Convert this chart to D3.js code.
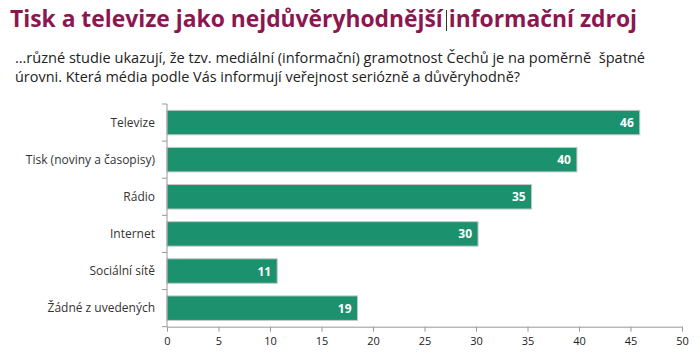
<!DOCTYPE html>
<html><head><meta charset="utf-8">
<script src="https://cdn.jsdelivr.net/npm/d3@7"></script>
<style>body{margin:0;background:#fff;} svg{display:block;}</style>
</head><body>
<svg id="c" width="700" height="360"></svg>
<script>
const categories = ["Televize","Tisk (noviny a časopisy)","Rádio","Internet","Sociální sítě","Žádné z uvedených"];
const values = [45.9, 39.8, 35.4, 30.2, 10.7, 18.5];
const ticks = [0,5,10,15,20,25,30,35,40,45,50];
const title = "Tisk a televize jako nejdůvěryhodnější informační zdroj";
const subtitle = ["…různé studie ukazují, že tzv. mediální (informační) gramotnost Čechů je na poměrně  špatné",
                  "úrovni. Která média podle Vás informují veřejnost seriózně a důvěryhodně?"];

const svg = d3.select("#c");
const font = "'Open Sans', 'Noto Sans', sans-serif";

svg.append("text").attr("x",10).attr("y",27)
  .attr("font-family", font).attr("font-weight","bold").attr("font-size",23)
  .attr("fill","#8c1750").attr("textLength",627).attr("lengthAdjust","spacingAndGlyphs")
  .style("white-space","pre").text(title);
// text cursor visible in the original screenshot
svg.append("line").attr("x1",446.5).attr("x2",446.5).attr("y1",10).attr("y2",31)
  .attr("stroke","#333").attr("stroke-width",1);

svg.selectAll("text.sub").data(subtitle).enter().append("text").attr("class","sub")
  .attr("x",15).attr("y",(d,i)=>63+i*18.5)
  .attr("font-family", font).attr("font-size",14).attr("fill","#222")
  .attr("textLength",(d,i)=> i===0 ? 630 : 505).attr("lengthAdjust","spacingAndGlyphs")
  .style("white-space","pre").text(d=>d);

const x = d3.scaleLinear().domain([0,50]).range([167,682]);
const y = d3.scaleBand().domain(categories).range([104,326.7]).paddingInner(0.34).paddingOuter(0.17);

const g = svg.append("g");
g.selectAll("rect").data(values).enter().append("rect")
  .attr("x", x(0)).attr("y",(d,i)=>y(categories[i]))
  .attr("width", d=>x(d)-x(0)).attr("height", y.bandwidth())
  .attr("fill","#1b916e").attr("stroke","#c8c8c8").attr("stroke-width",1);

g.selectAll("text.val").data(values).enter().append("text").attr("class","val")
  .attr("x", d=>x(d)-6).attr("y",(d,i)=>y(categories[i])+y.bandwidth()/2+4.5)
  .attr("text-anchor","end").attr("font-family", font).attr("font-weight","bold")
  .attr("font-size",12).attr("fill","#fff").text(d=>Math.round(d));

// y axis
const yAxisG = svg.append("g");
yAxisG.append("line").attr("x1",x(0)).attr("x2",x(0)).attr("y1",104).attr("y2",326.7).attr("stroke","#999");
const bounds = d3.range(categories.length+1).map(i=>104+i*(326.7-104)/categories.length);
yAxisG.selectAll("line.t").data(bounds).enter().append("line").attr("class","t")
  .attr("x1",x(0)-5).attr("x2",x(0)).attr("y1",d=>d).attr("y2",d=>d).attr("stroke","#999");
yAxisG.selectAll("text").data(categories).enter().append("text")
  .attr("x",155).attr("y",d=>y(d)+y.bandwidth()/2+4)
  .attr("text-anchor","end").attr("font-family", font).attr("font-size",12).attr("fill","#333").text(d=>d);

// x axis
const xAxis = d3.axisBottom(x).tickValues(ticks).tickSize(5).tickSizeOuter(0);
const xg = svg.append("g").attr("transform","translate(0,326.7)").call(xAxis);
xg.select(".domain").attr("stroke","#999");
xg.selectAll(".tick line").attr("stroke","#999");
xg.selectAll(".tick text").attr("font-family", font).attr("font-size",11).attr("fill","#222").attr("dy","0.95em");
</script>
</body></html>
